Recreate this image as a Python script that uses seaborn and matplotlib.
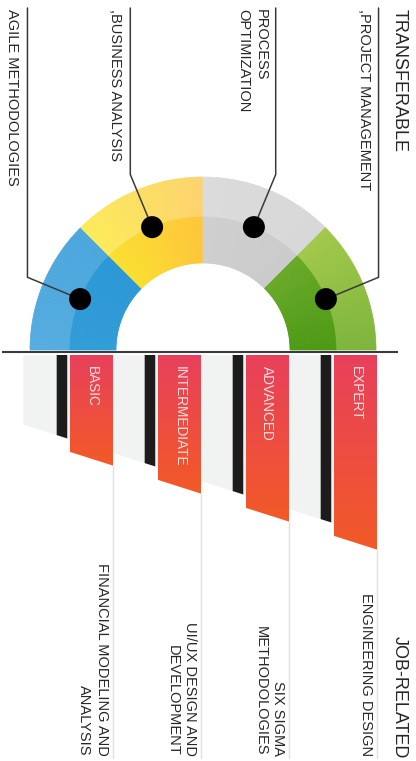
import numpy as np
import matplotlib
matplotlib.use("Agg")
import matplotlib.pyplot as plt
from matplotlib.patches import Wedge, Polygon, Circle
import seaborn as sns

# ---------------- data ----------------
transferable_title = "TRANSFERABLE"
transferable_skills = ["AGILE METHODOLOGIES", ",BUSINESS ANALYSIS",
                       "PROCESS\nOPTIMIZATION", ",PROJECT MANAGEMENT"]
transferable_shares = [25, 25, 25, 25]

job_title = "JOB-RELATED"
job_skills = ["FINANCIAL MODELING AND\nANALYSIS", "UI/UX DESIGN AND\nDEVELOPMENT",
              "SIX SIGMA\nMETHODOLOGIES", "ENGINEERING DESIGN"]
levels = ["BASIC", "INTERMEDIATE", "ADVANCED", "EXPERT"]
level_scores = [1, 2, 3, 4]

# ---------------- style ----------------
sns.set_theme(style="white")
plt.rcParams["font.family"] = ["Liberation Sans", "DejaVu Sans"]
TXT = "#262626"

# (outer start, outer end, inner start, inner end) per segment, start = left side
seg_colors = [
    ("#55ACDF", "#4BA7DC", "#309CD8", "#2A98D6"),
    ("#FCEB5A", "#FDD36E", "#FADF30", "#FFC63A"),
    ("#DBDBDB", "#D8D8D8", "#CFCFCF", "#CBCBCB"),
    ("#A2C84A", "#7DB53C", "#68A927", "#4C9A14"),
]

W, H = 416, 761
fig = plt.figure(figsize=(W / 100, H / 100), dpi=100)
fig.patch.set_facecolor("white")


def px_axes(x0, y0, x1, y1):
    return fig.add_axes([x0 / W, 1 - y1 / H, (x1 - x0) / W, (y1 - y0) / H])


# ---------------- top: half donut ----------------
axT = px_axes(0, 0, 416, 355)
axT.set_xlim(-203, 213)
axT.set_ylim(-5, 350)
axT.axis("off")

R_IN, R_MID, R_OUT, R_LEAD = 87, 133, 173, 190
TOP_Y = 342
total = sum(transferable_shares)
theta = 180.0
for skill, share, (o0, o1, i0, i1) in zip(transferable_skills, transferable_shares, seg_colors):
    span = 180.0 * share / total
    t_hi, t_lo = theta, theta - span
    n = 40
    outer = sns.blend_palette([o0, o1], n)
    inner = sns.blend_palette([i0, i1], n)
    edges = np.linspace(t_hi, t_lo, n + 1)
    for k in range(n):
        a1, a2 = edges[k + 1], edges[k]
        axT.add_patch(Wedge((0, 0), R_OUT, a1, a2, width=R_OUT - R_MID,
                            facecolor=outer[k], edgecolor=outer[k], lw=0.5))
        axT.add_patch(Wedge((0, 0), R_MID, a1, a2, width=R_MID - R_IN,
                            facecolor=inner[k], edgecolor=inner[k], lw=0.5))
    mid = np.deg2rad((t_hi + t_lo) / 2)
    dx, dy = R_MID * np.cos(mid), R_MID * np.sin(mid)
    ex, ey = R_LEAD * np.cos(mid), R_LEAD * np.sin(mid)
    axT.plot([dx, ex, ex], [dy, ey, TOP_Y], color="#3a3a3a", lw=1.1, zorder=4,
             solid_joinstyle="miter")
    axT.add_patch(Circle((dx, dy), 11, facecolor="black", edgecolor="none", zorder=5))
    axT.text(ex - 8, TOP_Y - 1, skill, rotation=-90, ha="right", va="top",
             multialignment="left", fontsize=10.5, color=TXT, linespacing=1.35)
    theta = t_lo

axT.plot([-201, 195], [-2, -2], color="#3a3a3a", lw=1.5, solid_capstyle="butt")
axT.text(196, TOP_Y - 1, transferable_title, rotation=-90, ha="center", va="top",
         fontsize=13, color=TXT)

# ---------------- bottom: slanted level bars ----------------
axB = px_axes(0, 355, 416, 761)
XL = (-25 / 88, 391 / 88)
YL = (406 / 28, 0)
axB.set_xlim(*XL)
axB.set_ylim(*YL)
axB.axis("off")

BASE = 2.5        # slant baseline (style)
RED_EXTRA = 0.45  # red bar extends below the slant
LABEL_Y = 14.32


def slant(i, s, x, extra=0.0):
    return BASE + extra + (s - 1) + (x - i)


n_cols = len(levels)
# grey guide band
gx0, gx1 = -0.02, float(n_cols)
axB.add_patch(Polygon([(gx0, 0), (gx1, 0), (gx1, slant(0, 1, gx1)), (gx0, slant(0, 1, gx0))],
                      closed=True, facecolor="#F1F2F2", edgecolor="none", zorder=1))

red_grad = np.array(sns.blend_palette(["#E8405C", "#F25A27"], 128))[:, :3].reshape(128, 1, 3)

for i, (lev, s, skill) in enumerate(zip(levels, level_scores, job_skills)):
    # black bar
    bx0, bx1 = i + 0.36, i + 0.48
    axB.add_patch(Polygon([(bx0, 0), (bx1, 0), (bx1, slant(i, s, bx1)), (bx0, slant(i, s, bx0))],
                          closed=True, facecolor="#1c1c1c", edgecolor="none", zorder=2))
    # red gradient bar
    rx0, rx1 = i + 0.51, i + 1.0
    yb0, yb1 = slant(i, s, rx0, RED_EXTRA), slant(i, s, rx1, RED_EXTRA)
    poly = Polygon([(rx0, 0), (rx1, 0), (rx1, yb1), (rx0, yb0)], closed=True,
                   facecolor="none", edgecolor="none", zorder=3)
    axB.add_patch(poly)
    im = axB.imshow(red_grad, extent=(rx0, rx1, yb1, 0), origin="upper", aspect="auto",
                    interpolation="bilinear", zorder=3)
    im.set_clip_path(poly)
    axB.text((rx0 + rx1) / 2, 0.40, lev, rotation=-90, ha="center", va="top",
             fontsize=9.8, color="#FCE1E4", zorder=4)
    # separator line
    axB.plot([i + 1, i + 1], [yb1, 14.39], color="#E0E0E0", lw=1.0, zorder=1)
    # skill label
    axB.text(i + 1 - 0.05, LABEL_Y, skill, rotation=-90, ha="right", va="bottom",
             multialignment="right", fontsize=10.5, color=TXT, linespacing=1.3)

axB.text(4.25, 14.40, job_title, rotation=-90, ha="center", va="bottom",
         fontsize=13, color=TXT)
axB.set_xlim(*XL)
axB.set_ylim(*YL)

fig.savefig("out.png", dpi=100, facecolor="white")
